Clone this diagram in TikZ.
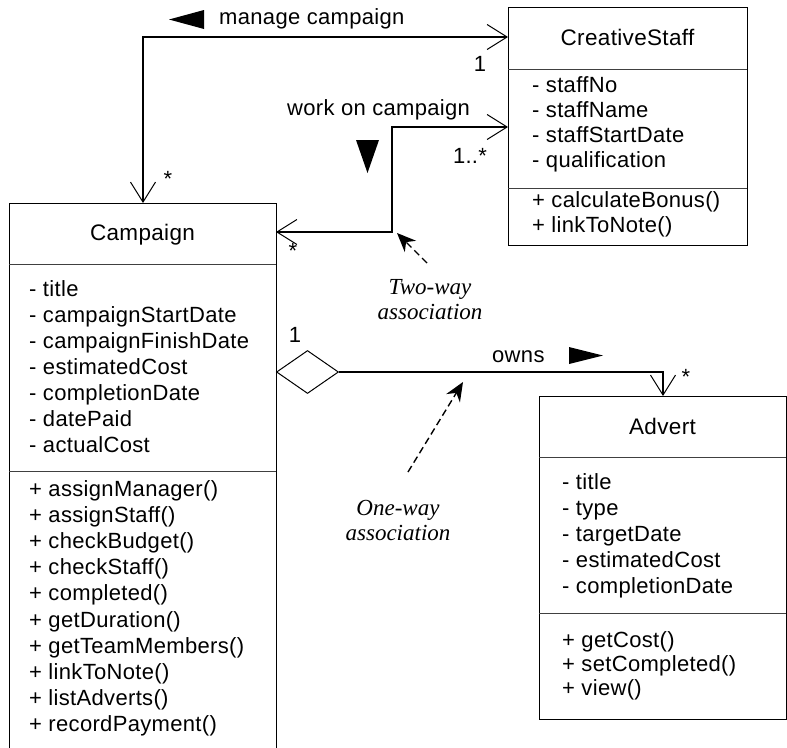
\documentclass[tikz,border=0pt]{standalone}
\usepackage{fontspec}
\setmainfont{Liberation Sans}[LetterSpace=1.5]
\newfontfamily\noteserif{Liberation Serif}
\usetikzlibrary{arrows.meta,shapes.geometric}
\tikzset{
  classbox/.style={draw, line width=1pt, inner sep=0pt, anchor=north west},
  sepline/.style={line width=0.9pt, draw=black!75},
  txt/.style={inner sep=0pt, anchor=base west, font=\fontsize{22}{26}\selectfont},
  cname/.style={inner sep=0pt, anchor=base, font=\fontsize{22.5}{26}\selectfont},
  lbl/.style={inner sep=0pt, anchor=base west, font=\fontsize{22}{26}\selectfont},
  mult/.style={inner sep=0pt, anchor=base, font=\fontsize{22}{26}\selectfont},
  note/.style={inner sep=0pt, align=center, font=\fontsize{23}{25}\noteserif\itshape},
  barb/.tip={Straight Barb[length=20pt,width=25pt,line width=1pt]},
  assoc/.style={line width=1.3pt, barb-barb},
  oneway/.style={line width=1.3pt, -barb},
  pointer/.style={line width=1.4pt, dash pattern=on 7pt off 4pt, -{Stealth[length=19pt,width=16pt]}},
  aggr/.style={diamond, draw, line width=1pt, fill=white, minimum width=62pt, minimum height=43pt, inner sep=0pt, anchor=west},
}
\begin{document}
\begin{tikzpicture}[x=1pt,y=-1pt]
\useasboundingbox (0,0) rectangle (787,747);
\clip (0,0) rectangle (787,747);

% ---------- Campaign ----------
\node[classbox, minimum width=267pt, minimum height=560pt] (campaign) at (9,203) {};
\draw[sepline] (9,264) -- (276,264);
\draw[sepline] (9,471) -- (276,471);
\node[cname] (campaignname) at (142.5,240) {Campaign};
\foreach \t [count=\i from 0] in {- title, - campaignStartDate, - campaignFinishDate, - estimatedCost, - completionDate, - datePaid, - actualCost}
  \node[txt] (ca\i) at (29,{296+26.1*\i}) {\t};
\foreach \t [count=\i from 0] in {+ assignManager(), + assignStaff(), + checkBudget(), + checkStaff(), + completed(), + getDuration(), + getTeamMembers(), + linkToNote(), + listAdverts(), + recordPayment()}
  \node[txt] (cm\i) at (29,{496+26.2*\i}) {\t};

% ---------- CreativeStaff ----------
\node[classbox, minimum width=239pt, minimum height=238pt] (creative) at (508,7) {};
\draw[sepline] (508,69) -- (747,69);
\draw[sepline] (508,188) -- (747,188);
\node[cname] (creativename) at (627.5,45) {CreativeStaff};
\foreach \t [count=\i from 0] in {- staffNo, - staffName, - staffStartDate, - qualification}
  \node[txt] (sa\i) at (532,{92+25.3*\i}) {\t};
\foreach \t [count=\i from 0] in {+ calculateBonus(), + linkToNote()}
  \node[txt] (sm\i) at (532,{207+25*\i}) {\t};

% ---------- Advert ----------
\node[classbox, minimum width=247pt, minimum height=323pt] (advert) at (539,396) {};
\draw[sepline] (539,457) -- (786,457);
\draw[sepline] (539,613) -- (786,613);
\node[cname] (advertname) at (662.5,434) {Advert};
\foreach \t [count=\i from 0] in {- title, - type, - targetDate, - estimatedCost, - completionDate}
  \node[txt] (aa\i) at (562,{489+26*\i}) {\t};
\foreach \t [count=\i from 0] in {+ getCost(), + setCompleted(), + view()}
  \node[txt] (am\i) at (562,{647+24*\i}) {\t};

% ---------- manage campaign ----------
\coordinate (mend) at (508,37);
\draw[assoc] (mend) -| (campaign.north);
\node[lbl] (managelbl) at (219,24) {manage campaign};
\fill (169,19.5) -- (204,10) -- (204,29) -- cycle;
\node[mult] (m1) at (480,71) {1};
\node[mult] (mstar) at (168,186) {*};

% ---------- work on campaign ----------
\coordinate (wend) at (508,127);
\coordinate (wstart) at (276,232);
\draw[assoc] (wend) -- ++(-116,0) |- (wstart);
\node[lbl] (worklbl) at (287,115) {work on campaign};
\fill (367.5,173) -- (356,140) -- (379,140) -- cycle;
\node[mult] (w1) at (470,163) {1..*};
\node[mult] (wstar) at (293,258.5) {*};

% ---------- owns ----------
\node[aggr] (agg) at (276,372) {};
\draw[oneway] (agg.east) -| (advert.north);
\node[lbl] (ownslbl) at (492,362) {owns};
\fill (603,355.5) -- (569,347) -- (569,364) -- cycle;
\node[mult] (o1) at (295,342) {1};
\node[mult] (ostar) at (686,384) {*};

% ---------- notes ----------
\node[note] (twoway) at (430,300) {Two-way\\association};
\coordinate (t1) at (427,263);
\coordinate (t2) at (397,233);
\draw[pointer] (t1) -- (t2);
\node[note] (oneway) at (398,520) {One-way\\association};
\coordinate (n1) at (408,472);
\coordinate (n2) at (463,382);
\draw[pointer] (n1) -- (n2);
\end{tikzpicture}
\end{document}
